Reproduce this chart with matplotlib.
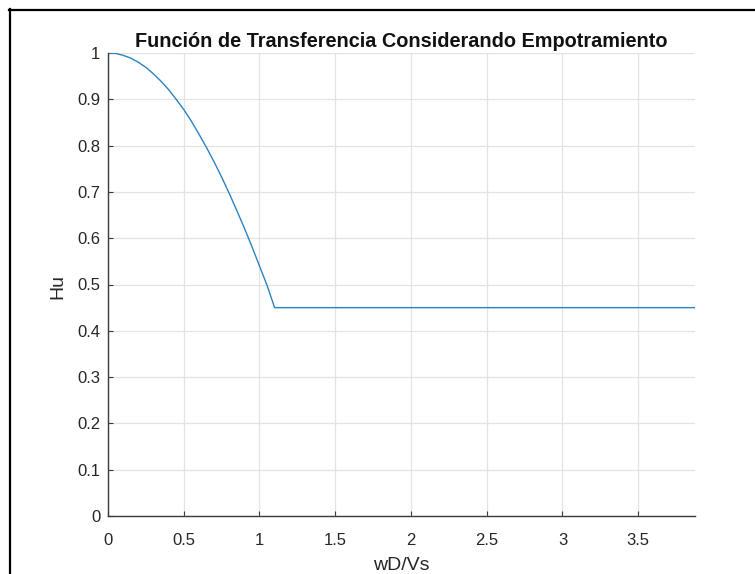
import matplotlib.pyplot as plt
from matplotlib.lines import Line2D

# wD/Vs values and transfer function Hu
wd_vs = [0.00, 0.05, 0.10, 0.15, 0.20, 0.25, 0.30, 0.35, 0.40, 0.45, 0.50,
         0.55, 0.60, 0.65, 0.70, 0.75, 0.80, 0.85, 0.90, 0.95, 1.00, 1.05,
         1.10, 3.875]
hu = [1.000, 0.999, 0.995, 0.989, 0.980, 0.969, 0.955, 0.939, 0.921, 0.900,
      0.878, 0.853, 0.825, 0.796, 0.765, 0.732, 0.697, 0.660, 0.622, 0.582,
      0.540, 0.498, 0.450, 0.450]

x_ticks = [0, 0.5, 1, 1.5, 2, 2.5, 3, 3.5]
x_tick_labels = ['0', '0.5', '1', '1.5', '2', '2.5', '3', '3.5']
y_ticks = [0, 0.1, 0.2, 0.3, 0.4, 0.5, 0.6, 0.7, 0.8, 0.9, 1]
y_tick_labels = ['0', '0.1', '0.2', '0.3', '0.4', '0.5', '0.6', '0.7', '0.8', '0.9', '1']

plt.rcParams['font.family'] = ['Liberation Sans', 'DejaVu Sans']

W, H = 755, 574
fig = plt.figure(figsize=(W / 100, H / 100), dpi=100)
fig.patch.set_facecolor('white')

# axes box in pixels: left 108, right 695, top 53, bottom 516
ax = fig.add_axes([108 / W, (H - 516) / H, (695 - 108) / W, (516 - 53) / H])

ax.plot(wd_vs, hu, color='#2a83c0', lw=1.0)

ax.set_xlim(0, 3.875)
ax.set_ylim(0, 1)
ax.set_xticks(x_ticks)
ax.set_xticklabels(x_tick_labels)
ax.set_yticks(y_ticks)
ax.set_yticklabels(y_tick_labels)

ax.grid(True, color='#e3e3e3', lw=0.9)
ax.set_axisbelow(True)

for side in ['top', 'right']:
    ax.spines[side].set_visible(False)
for side in ['left', 'bottom']:
    ax.spines[side].set_color('#3a3a3a')
    ax.spines[side].set_linewidth(1.0)

ax.tick_params(axis='both', direction='in', length=3.6, width=0.8,
               colors='#3a3a3a', labelcolor='#262626', labelsize=12)
ax.tick_params(axis='x', pad=12)
ax.tick_params(axis='y', pad=5.5)

ax.set_title('Función de Transferencia Considerando Empotramiento',
             fontsize=14.3, fontweight='bold', color='#111111', pad=4.5)

ax.set_xlabel('wD/Vs', fontsize=14, color='#262626')
ax.xaxis.label.set_va('baseline')
ax.xaxis.set_label_coords(0.5, (516 - 570) / 463)

ax.set_ylabel('Hu', fontsize=14, color='#262626')
ax.yaxis.label.set_va('baseline')
ax.yaxis.set_label_coords((62 - 108) / 587, 0.495)

# window frame along the left and top edges
fig.add_artist(Line2D([10 / W, 10 / W], [0, 1 - 9 / H], color='black', lw=1.6,
                      transform=fig.transFigure))
fig.add_artist(Line2D([9 / W, 1], [1 - 10 / H, 1 - 10 / H], color='black', lw=1.6,
                      transform=fig.transFigure))

fig.savefig('out.png', dpi=100)
